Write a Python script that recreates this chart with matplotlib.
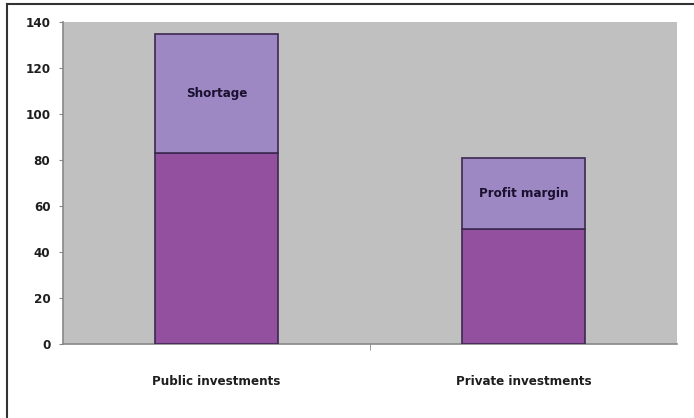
import matplotlib
matplotlib.use("Agg")
import matplotlib.pyplot as plt
from matplotlib.lines import Line2D

categories = ["Public investments", "Private investments"]
base_values = [83, 50]
top_values = [52, 31]
top_labels = ["Shortage", "Profit margin"]
yticks = [0, 20, 40, 60, 80, 100, 120, 140]

fam = ["DejaVu Sans", "Liberation Sans"]
fkw = dict(fontweight="bold", family=fam, fontstretch="condensed")

fig = plt.figure(figsize=(6.94, 4.18), dpi=100)
ax = fig.add_axes([63/694, 1-344/418, (677-63)/694, (344-22)/418])
ax.set_facecolor("#c0c0c0")

x = list(range(len(categories)))
ax.bar(x, base_values, width=0.40, color="#93509f", edgecolor="#3c2850", linewidth=1.2, zorder=3)
ax.bar(x, top_values, width=0.40, bottom=base_values, color="#9d88c4", edgecolor="#3c2850", linewidth=1.2, zorder=3)
for xi, b, t, lab in zip(x, base_values, top_values, top_labels):
    ax.text(xi, b + t/2, lab, ha="center", va="center", fontsize=9.5,
            color="#1a1030", zorder=4, **fkw)

ax.set_xlim(-0.5, 1.5)
ax.set_ylim(0, 140)
ax.set_yticks(yticks)
ax.set_yticklabels([str(v) for v in yticks], fontsize=9.5, color="#1e1e1e", **fkw)
ax.set_xticks(x)
ax.set_xticklabels(categories, fontsize=9.5, color="#1e1e1e", **fkw)
ax.tick_params(axis="x", length=0, pad=22)
ax.set_xticks([0.5], minor=True)
ax.tick_params(axis="x", which="minor", length=4, color="#888888")
ax.tick_params(axis="y", length=3, color="#888888", pad=6)

for s in ["top", "right"]:
    ax.spines[s].set_visible(False)
for s in ["left", "bottom"]:
    ax.spines[s].set_color("#888888")
    ax.spines[s].set_linewidth(1.2)

# figure border (top and left visible)
fig.add_artist(Line2D([7/694, 7/694], [0, 1-4/418], transform=fig.transFigure, color="#333333", linewidth=1.5))
fig.add_artist(Line2D([7/694, 1], [1-4/418, 1-4/418], transform=fig.transFigure, color="#333333", linewidth=1.5))

fig.savefig("out.png", dpi=100)
